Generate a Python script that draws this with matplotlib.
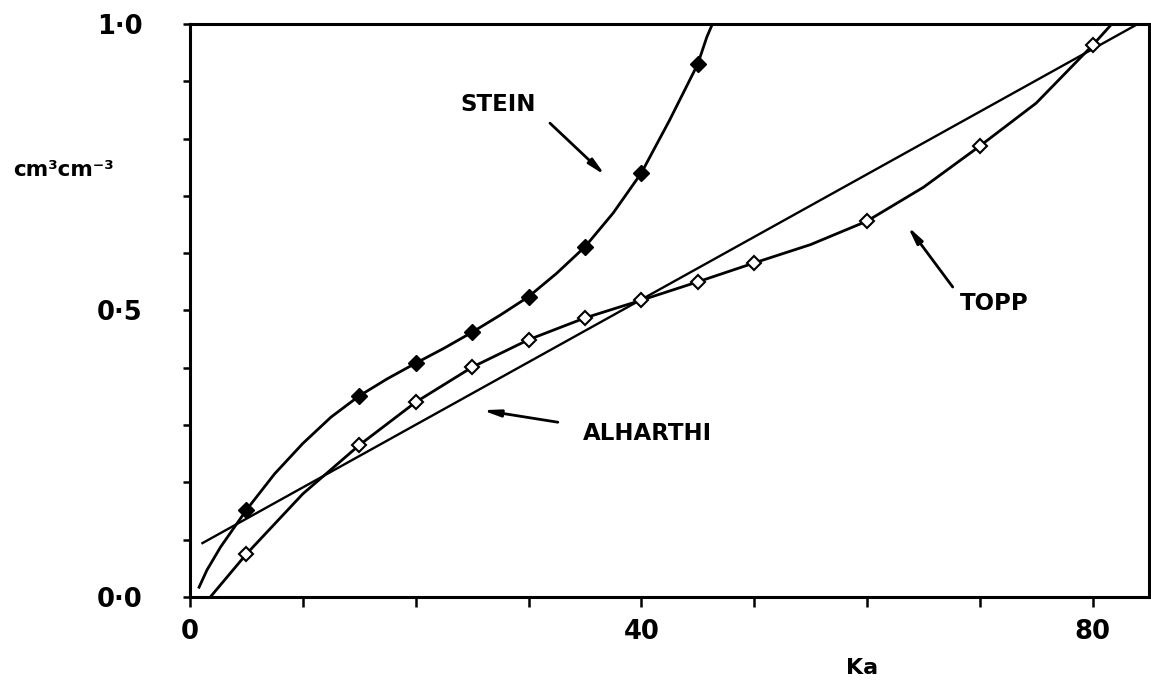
import matplotlib.pyplot as plt

# marker points
stein_ka = [5, 15, 20, 25, 30, 35, 40, 45]
stein_theta = [0.152, 0.351, 0.408, 0.462, 0.524, 0.611, 0.740, 0.930]
topp_ka = [5, 15, 20, 25, 30, 35, 40, 45, 50, 60, 70, 80]
topp_theta = [0.075, 0.265, 0.340, 0.401, 0.449, 0.487, 0.518, 0.550, 0.583, 0.656, 0.787, 0.963]

# traced curves (drawn lines)
stein_line_ka = [0.8, 1.5, 2.7, 5, 7.5, 10, 12.5, 15, 17.5, 20, 22.5, 25, 27.5, 30, 32.5, 35, 37.5,
                 40, 42.5, 45, 45.8, 46.3]
stein_line_theta = [0.017, 0.047, 0.087, 0.152, 0.215, 0.268, 0.314, 0.351, 0.381, 0.408, 0.434,
                    0.462, 0.492, 0.524, 0.565, 0.611, 0.670, 0.740, 0.832, 0.930, 0.977, 1.0]
topp_line_ka = [1.8, 5, 10, 15, 20, 25, 30, 35, 40, 45, 50, 55, 60, 65, 70, 75, 80, 81.7]
topp_line_theta = [0.0, 0.075, 0.180, 0.265, 0.340, 0.401, 0.449, 0.487, 0.518, 0.550, 0.583, 0.615,
                   0.656, 0.715, 0.787, 0.862, 0.963, 1.0]
alharthi_ka = [1.1, 84.0]
alharthi_theta = [0.094, 1.0]

plt.rcParams['font.family'] = ['DejaVu Sans']

fig = plt.figure(figsize=(11.51, 6.88), dpi=100)
ax = fig.add_axes([0.1651, 0.1323, 0.8332, 0.8328])

ax.plot(alharthi_ka, alharthi_theta, color='black', lw=1.7)
ax.plot(topp_line_ka, topp_line_theta, color='black', lw=2.0)
ax.plot(stein_line_ka, stein_line_theta, color='black', lw=2.0)
ax.plot(topp_ka, topp_theta, linestyle='none', marker='D', markersize=7.5,
        markerfacecolor='white', markeredgecolor='black', markeredgewidth=1.5)
ax.plot(stein_ka, stein_theta, linestyle='none', marker='D', markersize=8,
        markerfacecolor='black', markeredgecolor='black')

ax.set_xlim(0, 85)
ax.set_ylim(0, 1.0)

ax.set_xticks([0, 40, 80])
ax.set_xticklabels(['0', '40', '80'])
ax.set_xticks(range(0, 85, 10), minor=True)
ax.set_yticks([0, 0.5, 1.0])
ax.set_yticklabels(['0·0', '0·5', '1·0'])
ax.set_yticks([i / 10 for i in range(11)], minor=True)

ax.tick_params(axis='x', which='both', direction='out', length=7, width=1.8, pad=9,
               labelsize=18.5)
ax.tick_params(axis='y', which='both', direction='out', length=5, width=1.8, pad=29,
               labelsize=18.5)
for lab in ax.get_xticklabels() + ax.get_yticklabels():
    lab.set_fontweight('bold')

for s in ax.spines.values():
    s.set_linewidth(2.2)

lbl = dict(ha='center', va='center', fontsize=16.5, fontweight='bold')
arrow = dict(arrowstyle='-|>,head_width=0.2,head_length=1.0', color='black', lw=2.0,
             shrinkA=0, shrinkB=0)
ax.annotate('', xy=(36.8, 0.736), xytext=(31.9, 0.827), arrowprops=arrow)
ax.text(27.3, 0.859, 'STEIN', **lbl)
ax.annotate('', xy=(25.9, 0.326), xytext=(32.6, 0.305), arrowprops=arrow)
ax.text(40.5, 0.286, 'ALHARTHI', **lbl)
ax.annotate('', xy=(63.6, 0.647), xytext=(67.6, 0.541), arrowprops=arrow)
ax.text(71.3, 0.513, 'TOPP', **lbl)

fig.text(63 / 1151, 1 - 170 / 688, 'cm³cm⁻³', ha='center', va='center',
         fontsize=15.5, fontweight='bold')
fig.text(862 / 1151, 1 - 668 / 688, 'Ka', ha='center', va='center', fontsize=16,
         fontweight='bold')

fig.savefig('out.png', dpi=100)
